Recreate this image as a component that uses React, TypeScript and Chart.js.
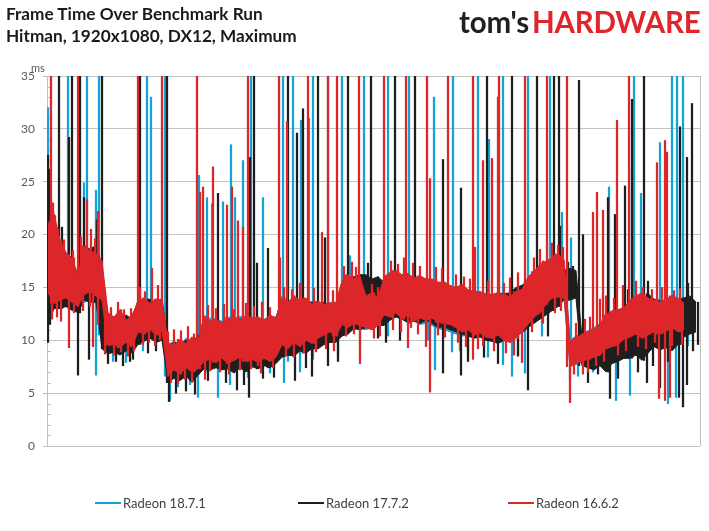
import { useEffect, useRef } from "react";
import { Chart, registerables } from "chart.js";

Chart.register(...registerables);

const TITLE = "Frame Time Over Benchmark Run";
const SUBTITLE = "Hitman, 1920x1080, DX12, Maximum";
const Y_UNIT = "ms";
const SERIES_NAMES = ["Radeon 18.7.1", "Radeon 17.7.2", "Radeon 16.6.2"];
const SERIES_COLORS = ["#14a3d4", "#1e1e1e", "#dc2629"];
const Y_MIN = 0;
const Y_MAX = 35;
const Y_STEP = 5;
const RUN_LENGTH = 652; // samples along the run
const ENVELOPE_STEP = 6; // samples between envelope readings

// ---- Radeon 18.7.1 (blue): band top / bottom (ms) every ENVELOPE_STEP samples
const blueHigh = [
  21.0, 18.0, 17.5, 17.5, 17.0, 16.5, 18.5, 18.4, 18.2, 17.0,
  12.3, 12.0, 12.5, 11.9, 12.2, 13.7, 13.9, 13.6, 13.6, 13.5,
  9.6, 9.9, 9.5, 10.2, 10.0, 10.1,
  11.9, 12.1, 12.0, 11.8, 12.2, 12.0, 12.3, 12.0, 12.2, 11.9, 12.0, 12.1, 12.0,
  14.2, 13.8, 13.6, 13.9, 13.7, 13.5, 13.5, 13.4, 13.6, 13.5,
  15.2, 15.8, 16.0, 15.6, 13.8, 14.2, 14.0,
  16.0, 16.4, 16.0, 16.1, 15.8, 16.0, 15.6, 15.4, 15.3, 15.3, 15.1,
  15.0, 14.9, 14.7, 14.6, 14.5, 14.6, 14.3, 14.4, 14.2, 14.0, 14.5, 14.8, 15.2,
  15.8, 16.4, 17.0, 17.4, 17.6, 18.0, 17.6,
  10.0, 10.4, 10.7, 10.9, 11.2, 11.6, 12.4, 12.6, 12.9, 13.0,
  13.4, 14.0, 14.3, 14.0, 13.8, 13.9, 13.6, 14.0, 13.8, 13.6,
];
const blueLow = [
  13.5, 13.8, 13.2, 13.2, 12.8, 12.8, 13.6, 13.8, 13.5, 10.5,
  8.9, 8.8, 8.9, 9.0, 9.2, 10.0, 10.2, 10.6, 10.3, 10.2,
  6.6, 6.5, 6.7, 6.9, 6.6, 6.8,
  7.8, 7.9, 7.6, 7.7, 7.6, 7.4, 7.8, 7.9, 7.8, 8.0, 7.7, 7.9, 8.5,
  9.0, 8.6, 9.2, 9.4, 9.6, 9.8, 9.6, 10.2, 10.0, 10.2,
  11.0, 11.2, 11.0, 11.2, 11.0, 11.2, 11.5,
  12.0, 12.2, 12.5, 12.0, 11.6, 11.9, 11.5, 11.6, 11.4, 11.1, 11.0,
  10.8, 10.6, 10.4, 10.5, 10.2, 10.4, 10.0, 10.0, 9.8, 9.9, 10.2, 10.4, 10.8,
  11.4, 12.0, 12.5, 13.0, 13.6, 13.8, 14.0,
  7.6, 7.7, 7.9, 8.1, 8.4, 8.6, 8.9, 9.1, 9.4, 9.6,
  10.1, 10.4, 10.3, 10.3, 10.6, 10.5, 10.8, 11.0, 10.8, 11.0,
];
// single-frame spikes: sample position and the frame time reached (ms)
const blueSpikeAt = [
  20, 39, 51, 99, 117, 203, 235, 245, 265, 280, 294, 316, 340, 361, 405, 430, 455, 480, 502, 586, 624, 629, 635,
  0, 103, 36, 48, 151, 159, 164, 175, 183, 187, 195, 215, 253, 261, 302, 386, 441, 514, 523, 561, 584, 593, 612,
  48, 122, 150, 170, 182, 236, 252, 265, 387, 404, 455, 464, 477, 522, 568, 582, 620, 628,
];
const blueSpikeTo = [
  40, 40, 40, 40, 40, 40, 40, 40, 40, 40, 40, 40, 40, 40, 40, 40, 40, 40, 40, 40, 40, 40, 40,
  32.0, 33.0, 24.9, 24.2, 25.6, 23.5, 22.9, 23.1, 28.5, 23.5, 27.0, 23.5, 30.8, 31.0, 18.0, 33.0, 29.0, 22.1, 19.7, 24.5, 26.3, 23.9, 28.7,
  6.7, 4.3, 4.6, 4.6, 5.8, 6.0, 7.0, 8.2, 7.2, 8.9, 7.7, 6.6, 6.9, 6.2, 4.3, 4.8, 4.0, 4.6,
];
// frame-to-frame jitter just outside the band
const blueJitterAt = [
  65, 78, 95, 130, 142, 158, 178, 200, 222, 240, 290, 312, 340, 380, 412, 420, 440, 470, 494, 530, 545, 575, 600, 640,
];
const blueJitterTo = [
  8.0, 7.9, 9.0, 5.6, 5.8, 7.0, 6.8, 6.5, 6.9, 8.0, 8.6, 9.6, 10.4, 10.0, 9.0, 8.6, 8.4, 8.6, 10.4, 6.6, 7.0, 8.4, 8.9, 9.5,
];

// ---- Radeon 17.7.2 (black)
const blackHigh = [
  24.0, 20.0, 18.5, 17.5, 17.0, 16.0, 19.0, 18.6, 19.0, 17.0,
  12.0, 12.2, 11.8, 12.4, 12.0, 13.8, 13.6, 13.9, 13.5, 14.0,
  9.4, 9.8, 9.6, 10.0, 9.8, 10.2,
  12.0, 11.8, 11.5, 11.6, 11.9, 11.7, 12.0, 11.9, 11.8, 12.1, 11.9, 12.0, 12.2,
  13.8, 13.6, 13.9, 13.5, 13.7, 13.6, 13.4, 13.6, 13.2, 13.5,
  15.5, 15.8, 16.0, 16.2, 16.2, 15.8, 16.0,
  15.5, 16.2, 16.0, 15.8, 16.0, 15.7, 15.5, 15.2, 15.4, 15.0, 15.0,
  14.8, 14.6, 14.9, 14.5, 14.2, 14.4, 14.0, 14.3, 14.5, 14.4, 14.5, 15.0, 15.2,
  15.4, 15.8, 16.0, 16.4, 16.6, 16.8, 16.6, 16.8, 16.6,
  10.2, 10.5, 10.9, 11.4, 12.0, 12.3, 12.6, 12.9,
  13.5, 14.0, 13.8, 14.4, 13.9, 13.7, 13.5, 14.1, 13.8, 14.0, 14.2, 13.6,
];
const blackLow = [
  11.5, 13.0, 13.0, 13.2, 12.9, 12.6, 13.8, 13.6, 13.6, 9.2,
  8.7, 8.9, 8.6, 9.0, 8.8, 9.6, 9.9, 10.2, 9.8, 10.0,
  6.0, 6.4, 6.2, 6.6, 6.0, 6.7,
  7.3, 7.2, 7.4, 7.2, 7.3, 6.9, 7.4, 7.0, 7.5, 7.3, 7.6, 7.4, 7.8,
  8.4, 8.6, 8.5, 9.0, 8.8, 9.2, 9.2, 9.6, 9.8, 9.8,
  10.4, 10.6, 11.1, 11.0, 11.2, 11.6, 11.4,
  11.4, 11.9, 12.2, 12.0, 11.7, 11.8, 11.6, 11.9, 11.6, 11.2, 11.3,
  11.0, 10.8, 10.6, 10.4, 10.2, 10.3, 10.0, 9.9, 9.7, 10.0, 10.0, 10.4, 10.7,
  11.2, 11.6, 12.0, 12.4, 12.8, 13.2, 13.8, 13.8, 14.0,
  7.6, 7.4, 7.2, 7.6, 7.0, 7.8, 8.0, 8.3,
  8.3, 8.6, 8.1, 8.8, 9.4, 9.1, 9.3, 9.0, 9.6, 10.3, 10.6, 10.8,
];
const blackSpikeAt = [
  11, 24, 32, 54, 92, 119, 206, 240, 270, 300, 323, 347, 367, 439, 464, 489, 506, 511, 596,
  0, 2, 14, 21, 36, 49, 170, 202, 209, 220, 249, 255, 277, 395, 413, 512, 531, 535, 560, 567, 577, 584, 632, 639, 644,
  0, 30, 41, 82, 121, 189, 201, 247, 264, 395, 413, 480, 562, 599, 612, 631, 635, 639,
];
const blackSpikeTo = [
  40, 40, 40, 40, 40, 40, 40, 40, 40, 40, 40, 40, 40, 40, 40, 40, 40, 40, 40,
  27.5, 26.2, 20.7, 29.2, 23.5, 21.4, 23.9, 27.3, 17.3, 18.7, 29.6, 31.9, 19.7, 27.1, 24.4, 20.8, 34.6, 20.0, 23.5, 21.9, 24.6, 32.8, 30.2, 27.3, 32.4,
  9.8, 6.7, 8.2, 8.0, 4.2, 5.3, 4.6, 6.2, 6.6, 6.9, 6.7, 5.3, 4.5, 6.0, 5.5, 4.6, 3.7, 5.8,
];
const blackJitterAt = [
  60, 68, 75, 85, 100, 108, 128, 138, 147, 160, 178, 196, 215, 226, 258, 280, 290, 330, 338, 352,
  420, 436, 450, 470, 500, 540, 550, 570, 590, 605, 620, 645, 650,
  320, 500, 520, 525, 580, 600, 640,
];
const blackJitterTo = [
  7.8, 8.0, 7.6, 8.2, 8.8, 9.0, 5.0, 5.2, 4.9, 6.2, 6.0, 5.8, 6.4, 6.5, 7.4, 7.6, 8.0, 10.2, 9.8, 10.0,
  8.0, 8.4, 7.8, 8.5, 10.4, 6.0, 6.8, 6.4, 7.0, 7.6, 8.0, 9.0, 9.6,
  17.3, 17.6, 17.4, 17.0, 14.8, 15.6, 15.4,
];

// ---- Radeon 16.6.2 (red)
const redHigh = [
  21.0, 22.0, 19.5, 18.3, 17.8, 16.2, 18.9, 18.5, 18.2, 17.5,
  12.6, 12.2, 12.9, 11.9, 12.4, 13.6, 14.0, 13.5, 13.9, 13.8,
  9.8, 9.5, 10.1, 9.7, 10.3, 9.9,
  12.3, 11.8, 12.0, 11.7, 12.0, 12.2, 11.9, 12.4, 12.1, 12.2, 11.9, 12.4, 12.1,
  14.0, 13.6, 14.2, 13.8, 14.0, 13.4, 13.7, 13.4, 13.5, 13.6,
  15.6, 16.2, 15.8, 16.0, 14.2, 14.5, 14.0,
  16.0, 16.4, 16.6, 16.2, 16.3, 15.9, 16.1, 15.8, 15.8, 15.5, 15.5,
  15.2, 15.0, 15.3, 14.8, 14.6, 14.6, 14.4, 14.3, 14.5, 14.3, 14.1, 14.6, 14.8,
  16.0, 16.5, 17.2, 17.5, 17.8, 18.2, 17.6,
  9.9, 10.2, 10.6, 10.8, 11.0, 11.4, 12.4, 12.8, 12.9, 13.1,
  13.8, 14.2, 14.5, 14.0, 13.8, 13.6, 13.9, 14.2, 14.0, 13.5,
];
const redLow = [
  14.5, 13.5, 13.8, 14.0, 13.6, 13.2, 14.3, 14.6, 14.2, 13.8,
  9.5, 9.6, 9.3, 9.8, 9.4, 10.8, 10.6, 11.0, 10.5, 10.9,
  6.6, 7.2, 6.8, 7.4, 7.0, 7.3,
  8.0, 8.2, 7.9, 8.3, 7.8, 8.1, 8.4, 8.0, 8.2, 7.9, 8.3, 8.0, 8.4,
  9.6, 9.2, 9.8, 9.4, 10.0, 9.7, 10.2, 10.5, 10.8, 10.4,
  11.5, 11.2, 11.6, 11.4, 11.2, 11.0, 11.4,
  12.4, 12.2, 12.6, 12.0, 12.4, 11.8, 12.1, 11.9, 12.1, 11.7, 11.6,
  11.5, 11.2, 10.8, 11.0, 10.5, 10.7, 10.3, 10.2, 10.5, 10.0, 9.8, 10.2, 10.8,
  11.5, 12.2, 12.6, 13.4, 14.0, 14.1, 14.0,
  7.5, 7.8, 8.0, 8.2, 8.4, 8.6, 9.2, 9.4, 9.6, 10.1,
  10.3, 10.6, 10.2, 10.5, 10.8, 10.6, 10.9, 11.2, 10.8, 11.0,
];
const redSpikeAt = [
  3, 30, 90, 114, 149, 200, 231, 260, 280, 289, 311, 336, 358, 379, 400, 425, 451, 477, 499, 519, 581,
  7, 39, 50, 152, 155, 165, 179, 184, 190, 195, 232, 239, 274, 382, 427, 435, 444, 450, 545, 549, 555, 569, 609, 617, 619,
  21, 45, 157, 210, 312, 360, 378, 382, 425, 435, 474, 522, 535, 611, 617, 622,
];
const redSpikeTo = [
  40, 40, 40, 40, 40, 40, 40, 40, 40, 40, 40, 40, 40, 40, 40, 40, 40, 40, 40, 40, 40,
  21.8, 23.3, 22.2, 24.0, 24.5, 26.4, 22.8, 24.5, 21.3, 20.7, 17.8, 30.7, 20.2, 25.3, 18.8, 27.0, 27.2, 33.0, 22.1, 24.0, 22.3, 30.8, 26.8, 28.9, 27.8,
  9.3, 9.4, 6.3, 7.6, 7.8, 9.3, 9.4, 5.1, 8.2, 9.5, 7.9, 4.1, 6.8, 4.5, 4.3, 4.6,
];
const redJitterAt = [
  5, 10, 16, 25, 33, 43, 47, 4, 9, 13, 26, 35, 42, 50,
  58, 63, 70, 76, 83, 57, 66, 73, 80, 86,
  92, 97, 104, 110, 95, 101, 107, 112,
  120, 126, 133, 140, 146, 123, 130, 137, 144,
  160, 168, 176, 186, 198, 206, 214, 222, 162, 172, 181, 192, 203, 213, 225,
  236, 244, 252, 266, 274, 285, 238, 246, 256, 268, 278, 286,
  296, 304, 308, 298, 306, 324, 330, 326, 332,
  343, 350, 356, 365, 372, 388, 394, 345, 353, 363, 370, 390, 397,
  408, 416, 422, 440, 456, 462, 470, 410, 418, 430, 446, 458, 466,
  486, 492, 504, 510, 515, 484, 495, 507, 513,
  528, 537, 542, 552, 558, 526, 540, 548, 556,
  566, 575, 588, 595, 604, 614, 626, 632, 570, 578, 590, 598, 607, 624, 634,
];
const redJitterTo = [
  23.0, 20.5, 19.5, 18.5, 19.8, 20.5, 19.6, 12.0, 12.2, 11.8, 12.6, 12.8, 13.2, 11.5,
  13.4, 13.1, 13.6, 12.9, 13.0, 8.7, 8.6, 8.9, 8.5, 9.0,
  15.0, 14.6, 16.8, 15.2, 9.6, 9.8, 9.5, 10.0,
  10.8, 11.0, 10.9, 11.3, 10.6, 6.0, 5.9, 6.3, 6.1,
  13.3, 13.0, 13.4, 12.9, 13.5, 13.2, 13.6, 13.1, 7.1, 7.0, 6.8, 7.2, 7.3, 6.9, 7.4,
  15.0, 14.8, 15.4, 14.9, 14.6, 14.7, 8.5, 8.4, 8.8, 8.9, 9.2, 9.0,
  17.0, 17.4, 16.9, 10.4, 10.6, 15.3, 15.0, 10.2, 10.4,
  17.5, 17.2, 17.8, 17.3, 17.0, 16.9, 16.8, 11.0, 10.8, 11.2, 10.6, 10.5, 10.3,
  16.2, 16.0, 15.8, 15.6, 15.4, 15.9, 16.4, 9.8, 9.4, 9.2, 9.0, 8.8, 8.6,
  17.8, 18.6, 19.2, 19.0, 18.8, 10.8, 11.6, 12.6, 12.8,
  11.6, 12.0, 12.2, 13.9, 14.2, 6.8, 7.0, 7.6, 8.0,
  14.0, 15.2, 15.6, 15.0, 14.8, 15.0, 14.7, 14.9, 8.6, 9.0, 9.4, 9.2, 9.8, 9.5, 9.6,
];

const SERIES = [
  { high: blueHigh, low: blueLow, at: [...blueSpikeAt, ...blueJitterAt], to: [...blueSpikeTo, ...blueJitterTo] },
  { high: blackHigh, low: blackLow, at: [...blackSpikeAt, ...blackJitterAt], to: [...blackSpikeTo, ...blackJitterTo] },
  { high: redHigh, low: redLow, at: [...redSpikeAt, ...redJitterAt], to: [...redSpikeTo, ...redJitterTo] },
];

function buildDatasets() {
  const drawOrder = [2, 1, 0]; // red on top, blue at the bottom
  const out: any[] = [];
  SERIES.forEach((s, k) => {
    const color = SERIES_COLORS[k];
    const band = (arr: number[]) => arr.map((v, i) => ({ x: i * ENVELOPE_STEP, y: v }));
    const spikes = s.at.map((at, j) => {
      const i = Math.min(Math.round(at / ENVELOPE_STEP), s.high.length - 1);
      const to = s.to[j];
      const mid = (s.high[i] + s.low[i]) / 2;
      return { x: at, y: to >= mid ? [s.low[i], to] : [to, s.high[i]] };
    });
    out.push(
      {
        type: "line",
        label: SERIES_NAMES[k],
        data: band(s.high),
        borderColor: color,
        backgroundColor: color,
        borderWidth: 1,
        pointRadius: 0,
        tension: 0,
        fill: "+1",
        clip: 0,
        order: drawOrder[k],
      },
      {
        type: "line",
        label: SERIES_NAMES[k] + " low",
        data: band(s.low),
        borderColor: color,
        backgroundColor: color,
        borderWidth: 1,
        pointRadius: 0,
        tension: 0,
        fill: false,
        clip: 0,
        order: drawOrder[k],
      },
      {
        type: "bar",
        label: SERIES_NAMES[k] + " spikes",
        data: spikes,
        backgroundColor: color,
        borderWidth: 0,
        barThickness: 1.6,
        grouped: false,
        clip: 0,
        order: drawOrder[k],
      }
    );
  });
  return out;
}

const axisExtras = {
  id: "axisExtras",
  beforeDatasetsDraw(chart: any) {
    const { ctx, chartArea, scales } = chart;
    const y = scales.y;
    ctx.save();
    ctx.strokeStyle = "#bfbfbf";
    ctx.lineWidth = 1;
    for (let v = Y_MIN; v <= Y_MAX; v++) {
      if (v % Y_STEP === 0) continue;
      const py = Math.round(y.getPixelForValue(v)) + 0.5;
      ctx.beginPath();
      ctx.moveTo(chartArea.left, py);
      ctx.lineTo(chartArea.left + 4, py);
      ctx.stroke();
    }
    ctx.restore();
  },
  afterDraw(chart: any) {
    const { ctx, chartArea } = chart;
    ctx.save();
    ctx.strokeStyle = "#bfbfbf";
    ctx.lineWidth = 1;
    const rx = Math.round(chartArea.right) + 0.5;
    ctx.beginPath();
    ctx.moveTo(rx, chartArea.top);
    ctx.lineTo(rx, chartArea.bottom);
    ctx.stroke();
    ctx.restore();
  },
};

const FONT = "Lato, 'Liberation Sans', sans-serif";

export default function App() {
  const canvasRef = useRef<HTMLCanvasElement | null>(null);

  useEffect(() => {
    if (!canvasRef.current) return;
    const chart = new Chart(canvasRef.current, {
      type: "line",
      data: { datasets: buildDatasets() },
      options: {
        responsive: false,
        animation: false,
        events: [],
        layout: { padding: { left: 7, right: 9, top: 76, bottom: 85 } },
        plugins: {
          legend: { display: false },
          title: { display: false },
          tooltip: { enabled: false },
        },
        scales: {
          x: { type: "linear", min: -1, max: RUN_LENGTH, offset: false, display: false },
          y: {
            min: Y_MIN,
            max: Y_MAX,
            ticks: {
              stepSize: Y_STEP,
              color: "#595959",
              padding: 8,
              font: { family: FONT, size: 12 },
            },
            grid: {
              color: "#c4c4c4",
              lineWidth: 1,
              tickLength: 4,
              tickColor: "#bfbfbf",
            },
            border: { color: "#bfbfbf" },
            afterFit: (scale: any) => {
              scale.width = 40;
            },
          },
        },
      } as any,
      plugins: [axisExtras],
    });
    return () => chart.destroy();
  }, []);

  return (
    <div
      style={{
        position: "absolute",
        left: 0,
        top: 0,
        width: 709,
        height: 531,
        background: "#ffffff",
        overflow: "hidden",
        fontFamily: FONT,
      }}
    >
      <canvas
        ref={canvasRef}
        width={709}
        height={531}
        style={{ position: "absolute", left: 0, top: 0, width: 709, height: 531 }}
      />
      <div
        style={{
          position: "absolute",
          left: 6,
          top: 3,
          fontWeight: 700,
          fontSize: 17.2,
          lineHeight: "22px",
          color: "#1a1a1a",
          whiteSpace: "nowrap",
        }}
      >
        <div>{TITLE}</div>
        <div>{SUBTITLE}</div>
      </div>
      <div
        style={{
          position: "absolute",
          left: 459,
          top: 7,
          fontWeight: 700,
          fontSize: 29.5,
          lineHeight: "29px",
          whiteSpace: "nowrap",
          letterSpacing: -0.2,
        }}
      >
        <span style={{ color: "#231f20" }}>tom's</span>
        <span style={{ color: "#e1252b", marginLeft: 3 }}>HARDWARE</span>
      </div>
      <div
        style={{
          position: "absolute",
          left: 31,
          top: 62,
          fontSize: 11,
          lineHeight: "12px",
          color: "#595959",
        }}
      >
        {Y_UNIT}
      </div>
      {SERIES_NAMES.map((name, k) => (
        <div
          key={name}
          style={{
            position: "absolute",
            left: [95, 298, 508][k],
            top: 494,
            height: 18,
            display: "flex",
            alignItems: "center",
            fontSize: 13,
            color: "#404040",
            whiteSpace: "nowrap",
          }}
        >
          <span
            style={{
              display: "inline-block",
              width: 26,
              height: 1.5,
              background: SERIES_COLORS[k],
              marginRight: 2,
            }}
          />
          <span>{name}</span>
        </div>
      ))}
    </div>
  );
}
